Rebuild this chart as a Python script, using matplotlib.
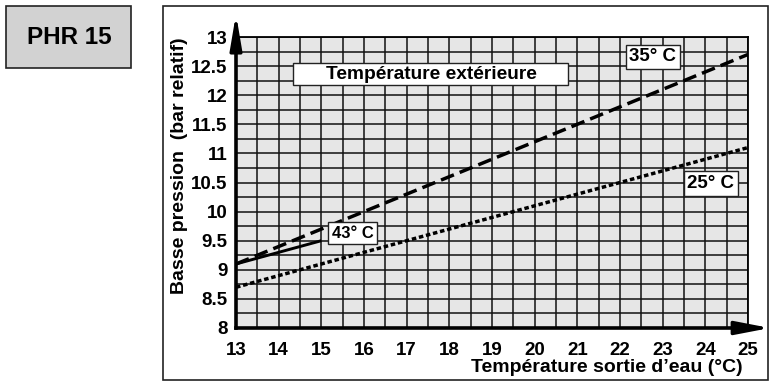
import matplotlib.pyplot as plt
from matplotlib.patches import Rectangle
from matplotlib.ticker import MultipleLocator

plt.rcParams['font.family'] = ['Liberation Sans', 'DejaVu Sans']
plt.rcParams['font.weight'] = 'bold'

# water outlet temperature (°C) and low pressure (bar relatif) per outdoor temp
t35 = [13, 25]
p35 = [9.1, 12.7]
t25 = [13, 25]
p25 = [8.7, 11.1]
t43 = [13, 15]
p43 = [9.1, 9.5]

xticks = list(range(13, 26))
yticks = [8, 8.5, 9, 9.5, 10, 10.5, 11, 11.5, 12, 12.5, 13]
ytick_labels = ['8', '8.5', '9', '9.5', '10', '10.5', '11', '11.5', '12', '12.5', '13']

W, H = 779, 384
fig = plt.figure(figsize=(W / 100, H / 100), dpi=100)

def fx(px):
    return px / W

def fy(py):
    return 1 - py / H

# outer frame and title box
fig.patches.append(Rectangle((fx(163), fy(380)), fx(768) - fx(163), fy(6) - fy(380),
                             transform=fig.transFigure, fill=False, ec='#222222', lw=1.2))
fig.patches.append(Rectangle((fx(6), fy(68)), fx(131) - fx(6), fy(6) - fy(68),
                             transform=fig.transFigure, fc='#d2d2d2', ec='#222222', lw=1.2))
fig.text(fx(69), fy(37), 'PHR 15', fontsize=17.5, fontweight='bold', ha='center', va='center')

ax = fig.add_axes([fx(236), fy(328), fx(748) - fx(236), fy(37) - fy(328)])
ax.set_facecolor('#e6e6e6')
ax.set_xlim(13, 25)
ax.set_ylim(8, 13)
ax.set_xticks(xticks)
ax.set_yticks(yticks)
ax.set_yticklabels(ytick_labels)
ax.xaxis.set_minor_locator(MultipleLocator(0.5))
ax.yaxis.set_minor_locator(MultipleLocator(0.25))
ax.grid(which='both', color='#111111', lw=1.1)
ax.set_axisbelow(True)
ax.tick_params(which='both', length=0, labelsize=13.5)
ax.tick_params(axis='y', pad=6)
ax.tick_params(axis='x', pad=10)
for s in ['left', 'bottom']:
    ax.spines[s].set_linewidth(2.6)
for s in ['top', 'right']:
    ax.spines[s].set_linewidth(1.3)

ax.plot(t35, p35, color='black', lw=2.5, dashes=(4.0, 1.8), solid_capstyle='butt')
ax.plot(t25, p25, color='black', lw=2.5, dashes=(1.3, 0.8))
ax.plot(t43, p43, color='black', lw=2.1, solid_capstyle='butt')

# axis arrows
ax.annotate('', xy=(0, 1 + 23 / 291), xytext=(0, 0.98), xycoords='axes fraction',
            arrowprops=dict(arrowstyle='-|>,head_length=1.3,head_width=0.22', color='black',
                            lw=2.4, mutation_scale=16, shrinkA=0, shrinkB=0),
            annotation_clip=False)
ax.annotate('', xy=(1 + 22 / 512, 0), xytext=(0.98, 0), xycoords='axes fraction',
            arrowprops=dict(arrowstyle='-|>,head_length=1.3,head_width=0.25', color='black',
                            lw=2.4, mutation_scale=16, shrinkA=0, shrinkB=0),
            annotation_clip=False)

# labels
ax.add_patch(Rectangle((14.34, 12.18), 20.78 - 14.34, 12.55 - 12.18,
                       fc='white', ec='#222222', lw=1.0, zorder=4))
ax.text(17.57, 12.36, 'Température extérieure', fontsize=13.8, fontweight='bold',
        ha='center', va='center', zorder=5)
box = dict(boxstyle='square,pad=0.2', fc='white', ec='#222222', lw=1.0)
ax.text(22.77, 12.66, '35° C', fontsize=13.5, fontweight='bold', ha='center', va='center',
        bbox=box, zorder=5)
ax.text(24.13, 10.48, '25° C', fontsize=13.5, fontweight='bold', ha='center', va='center',
        bbox=box, zorder=5)
ax.text(15.73, 9.63, '43° C', fontsize=12, fontweight='bold', ha='center', va='center',
        bbox=box, zorder=5)

fig.text(fx(743), fy(368), 'Température sortie d’eau (°C)', fontsize=14,
         fontweight='bold', ha='right', va='center')
fig.text(fx(180), fy(166), 'Basse pression  (bar relatif)', fontsize=14,
         fontweight='bold', ha='center', va='center', rotation=90)

fig.savefig('out.png', dpi=100)
